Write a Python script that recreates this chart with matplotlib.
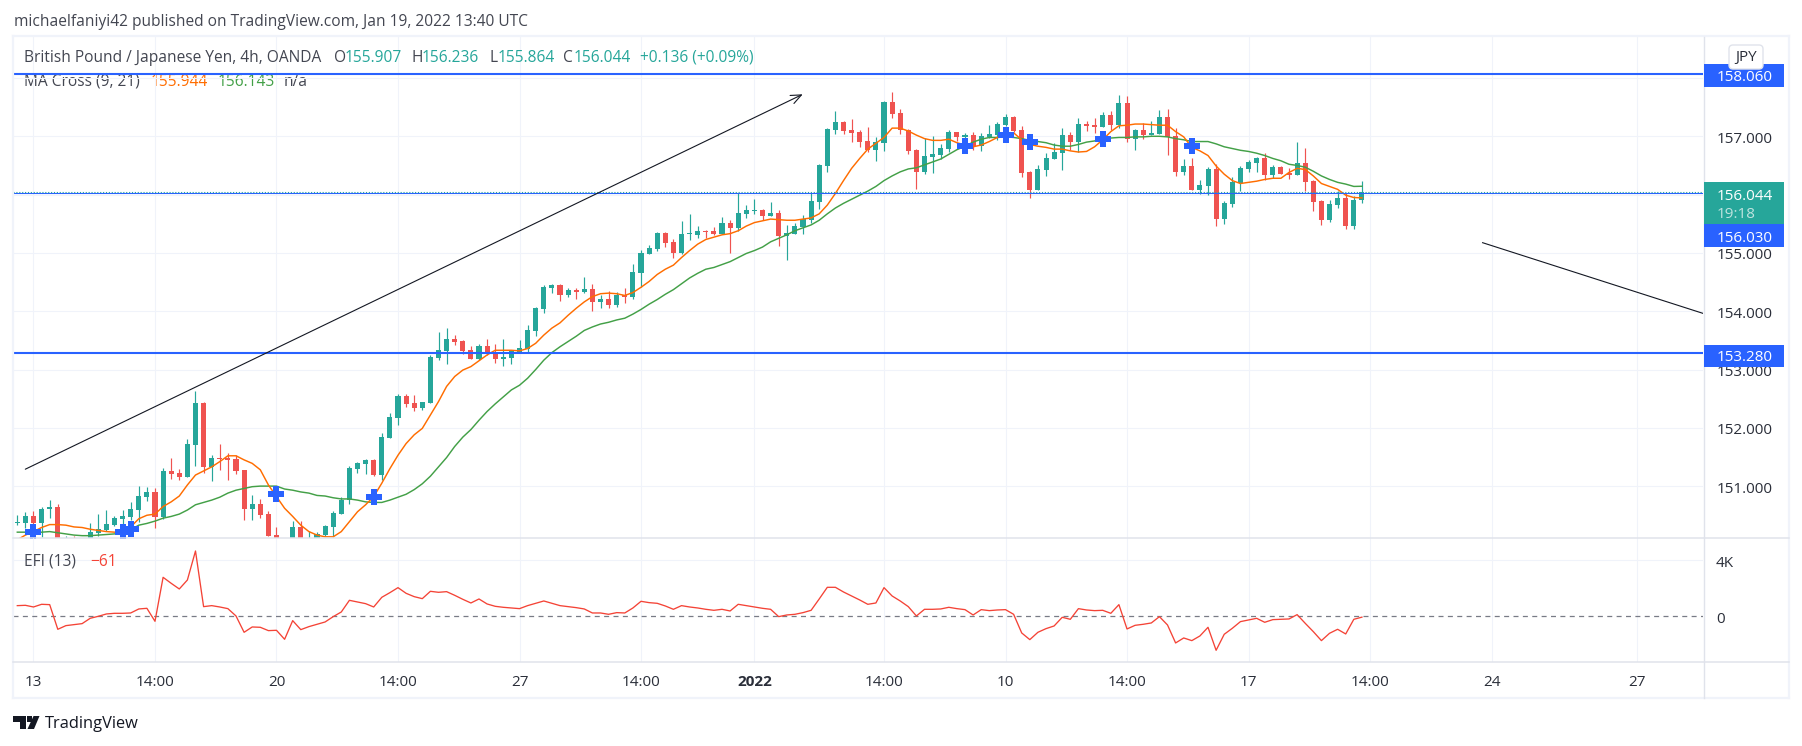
import numpy as np
import matplotlib
matplotlib.use("Agg")
import matplotlib.pyplot as plt
from matplotlib.patches import Rectangle, FancyBboxPatch, Polygon
from matplotlib.lines import Line2D

# GBP/JPY 4h candles, one value per bar
opens = [150.37,150.37,150.49,150.36,150.60,150.64,149.95,150.05,149.98,150.02,
         150.19,150.25,150.33,150.43,150.47,150.59,150.81,150.90,150.47,151.26,
         151.22,151.16,151.70,152.42,151.33,151.48,151.48,151.46,151.28,150.61,
         150.69,150.52,150.16,150.08,150.00,150.30,150.00,150.00,150.16,150.30,
         150.52,150.76,151.29,151.38,151.45,151.19,151.82,152.17,152.55,152.43,
         152.34,152.43,153.20,153.32,153.52,153.49,153.33,153.18,153.40,153.28,
         153.18,153.20,153.30,153.35,153.66,154.04,154.40,154.45,154.28,154.36,
         154.33,154.38,154.16,154.21,154.11,154.28,154.24,154.65,154.98,155.07,
         155.34,155.19,155.00,155.32,155.31,155.38,155.38,155.32,155.51,155.43,
         155.67,155.72,155.74,155.64,155.68,155.29,155.32,155.44,155.56,155.87,
         156.49,157.11,157.25,157.11,157.07,156.92,156.77,156.89,157.59,157.40,
         157.11,156.77,156.39,156.65,156.68,156.78,157.07,156.99,157.02,156.83,
         156.99,157.02,157.19,157.33,157.11,156.39,156.08,156.42,156.61,156.71,
         157.02,156.90,157.21,157.19,157.16,157.37,157.19,157.57,156.95,157.11,
         157.02,157.04,157.33,157.01,156.39,156.49,156.08,156.15,156.44,155.58,
         155.84,156.20,156.44,156.54,156.63,156.34,156.47,156.37,156.34,156.54,
         156.23,155.89,155.56,155.82,155.94,155.46,155.907]
highs = [150.50,150.56,150.57,150.64,150.76,150.69,150.14,150.14,150.10,150.37,
         150.52,150.59,150.49,150.59,150.72,151.00,150.98,150.97,151.31,151.48,
         151.29,151.81,152.63,152.44,151.53,151.72,151.56,151.53,151.28,150.85,
         150.78,150.57,150.30,150.10,150.40,150.40,150.23,150.21,150.33,150.57,
         150.81,151.35,151.41,151.46,151.46,151.91,152.25,152.58,152.58,152.56,
         152.44,153.25,153.64,153.71,153.59,153.51,153.40,153.44,153.52,153.44,
         153.52,153.33,153.51,153.76,154.08,154.45,154.47,154.47,154.40,154.40,
         154.59,154.47,154.28,154.35,154.33,154.40,154.81,155.05,155.13,155.36,
         155.36,155.24,155.55,155.67,155.46,155.39,155.44,155.62,155.56,156.03,
         155.82,155.92,155.75,155.87,155.74,155.48,155.52,155.65,156.03,156.52,
         157.14,157.43,157.26,157.30,157.11,157.16,156.99,157.61,157.76,157.47,
         157.13,156.78,156.97,157.01,156.87,157.11,157.07,157.06,157.07,157.06,
         157.19,157.25,157.38,157.35,157.18,156.40,156.51,156.71,156.89,157.14,
         157.07,157.31,157.26,157.31,157.42,157.43,157.71,157.69,157.13,157.23,
         157.26,157.45,157.47,157.14,156.61,156.63,156.25,156.47,156.52,155.89,
         156.30,156.49,156.59,156.65,156.71,156.51,156.49,156.46,156.90,156.80,
         156.25,155.91,155.91,156.06,156.03,155.98,156.236]
lows = [150.34,150.29,150.30,150.12,150.45,149.96,149.90,149.90,149.90,149.98,
        150.14,150.23,150.32,150.30,150.42,150.39,150.74,150.28,150.43,151.12,
        151.10,151.15,151.34,151.22,151.09,151.28,151.10,151.20,150.42,150.42,
        150.45,150.14,149.95,149.95,149.95,149.95,149.95,149.95,150.14,150.12,
        150.52,150.69,151.22,151.21,151.17,151.10,151.82,152.05,152.36,152.29,
        152.31,152.43,153.16,153.09,153.42,153.27,153.18,153.16,153.25,153.11,
        153.06,153.09,153.30,153.30,153.57,153.97,154.31,154.17,154.24,154.21,
        154.31,154.00,154.05,154.05,154.07,154.14,154.21,154.41,154.98,155.03,
        155.10,154.91,154.98,155.22,155.26,155.26,155.31,155.32,155.00,155.38,
        155.60,155.67,155.56,155.64,155.12,154.88,155.32,155.32,155.51,155.75,
        156.39,157.04,157.04,156.90,156.82,156.73,156.58,156.75,157.31,157.04,
        156.70,156.10,156.35,156.37,156.61,156.73,156.92,156.71,156.77,156.75,
        156.97,156.94,157.18,157.07,156.30,155.94,156.08,156.32,156.61,156.42,
        156.77,156.73,157.09,157.06,157.16,157.11,157.14,156.90,156.77,156.95,
        157.02,157.04,156.68,156.32,156.34,156.08,156.01,155.99,155.46,155.50,
        155.79,156.06,156.39,156.39,156.25,156.29,156.35,156.27,156.34,156.06,
        155.72,155.48,155.53,155.77,155.41,155.41,155.864]
closes = [150.38,150.49,150.36,150.60,150.64,150.02,150.03,149.95,150.05,150.21,
          150.26,150.35,150.45,150.49,150.61,150.83,150.90,150.47,151.26,151.21,
          151.16,151.72,152.42,151.33,151.48,151.46,151.45,151.26,150.61,150.69,
          150.50,150.14,150.00,150.02,150.30,150.00,150.08,150.18,150.32,150.54,
          150.76,151.31,151.40,151.45,151.19,151.84,152.19,152.55,152.41,152.34,
          152.44,153.21,153.33,153.52,153.47,153.32,153.18,153.40,153.27,153.18,
          153.21,153.32,153.37,153.68,154.05,154.41,154.45,154.28,154.36,154.33,
          154.38,154.16,154.21,154.11,154.28,154.24,154.67,155.00,155.08,155.34,
          155.17,155.00,155.32,155.33,155.38,155.36,155.32,155.51,155.43,155.68,
          155.74,155.74,155.64,155.68,155.29,155.34,155.46,155.58,155.89,156.51,
          157.13,157.25,157.09,157.06,156.90,156.77,156.90,157.59,157.38,157.11,
          156.75,156.39,156.66,156.70,156.80,157.07,156.99,157.02,156.83,157.00,
          157.04,157.21,157.33,157.09,156.37,156.08,156.44,156.63,156.73,157.02,
          156.90,157.21,157.18,157.16,157.37,157.19,157.57,156.95,157.11,157.02,
          157.06,157.33,156.99,156.39,156.49,156.08,156.16,156.44,155.58,155.86,
          156.22,156.46,156.56,156.63,156.34,156.47,156.35,156.34,156.54,156.22,
          155.87,155.56,155.84,155.94,155.46,155.91,156.044]

# MA Cross (9, 21)
ma_fast = [150.08,150.16,150.22,150.29,150.34,150.34,150.33,150.30,150.29,150.26,
           150.24,150.22,150.21,150.21,150.30,150.44,150.50,150.52,150.65,150.73,
           150.83,151.02,151.19,151.26,151.33,151.42,151.52,151.52,151.45,151.39,
           151.28,151.02,150.82,150.62,150.48,150.33,150.22,150.16,150.13,150.13,
           150.22,150.39,150.56,150.68,150.82,151.05,151.30,151.53,151.73,151.88,
           151.99,152.22,152.45,152.71,152.88,152.99,153.05,153.15,153.25,153.33,
           153.33,153.33,153.32,153.36,153.45,153.59,153.71,153.80,153.93,154.05,
           154.16,154.25,154.30,154.31,154.30,154.27,154.32,154.41,154.51,154.63,
           154.72,154.79,154.92,155.04,155.15,155.23,155.27,155.31,155.33,155.38,
           155.46,155.52,155.55,155.58,155.57,155.56,155.56,155.58,155.60,155.67,
           155.82,156.02,156.24,156.45,156.62,156.78,156.88,156.98,157.14,157.14,
           157.09,157.02,156.96,156.93,156.93,156.95,156.89,156.85,156.82,156.85,
           156.91,156.98,157.02,157.06,156.94,156.86,156.83,156.81,156.78,156.78,
           156.75,156.73,156.74,156.82,156.94,157.08,157.18,157.19,157.21,157.21,
           157.20,157.19,157.19,157.08,156.99,156.81,156.75,156.67,156.49,156.35,
           156.24,156.19,156.21,156.23,156.26,156.28,156.28,156.38,156.45,156.43,
           156.32,156.19,156.14,156.09,155.99,155.95,155.944]
ma_slow = [150.21,150.21,150.19,150.21,150.22,150.20,150.18,150.16,150.15,150.15,
           150.16,150.17,150.18,150.21,150.25,150.33,150.36,150.40,150.45,150.48,
           150.52,150.59,150.68,150.72,150.76,150.81,150.88,150.93,150.96,150.99,
           151.00,151.00,151.00,150.95,150.93,150.90,150.88,150.84,150.83,150.80,
           150.78,150.78,150.76,150.73,150.72,150.72,150.76,150.81,150.86,150.94,
           151.04,151.17,151.33,151.49,151.68,151.84,151.97,152.13,152.28,152.41,
           152.53,152.65,152.73,152.85,153.00,153.16,153.29,153.39,153.48,153.57,
           153.67,153.73,153.78,153.81,153.85,153.88,153.95,154.03,154.12,154.20,
           154.29,154.37,154.47,154.57,154.65,154.72,154.75,154.80,154.85,154.92,
           154.99,155.04,155.10,155.19,155.25,155.31,155.38,155.43,155.48,155.56,
           155.67,155.77,155.85,155.92,155.99,156.06,156.14,156.24,156.32,156.39,
           156.44,156.46,156.51,156.56,156.61,156.69,156.77,156.83,156.90,156.95,
           156.98,156.98,156.99,156.98,156.96,156.93,156.91,156.89,156.85,156.83,
           156.83,156.86,156.90,156.92,156.96,156.97,156.98,156.98,156.99,156.99,
           157.00,157.00,156.99,156.96,156.94,156.91,156.91,156.91,156.87,156.82,
           156.79,156.76,156.74,156.71,156.67,156.62,156.58,156.52,156.50,156.47,
           156.40,156.32,156.26,156.21,156.18,156.14,156.143]
cross_bars = [2, 13, 14, 32, 44, 117, 122, 125, 134, 145]
cross_prices = [150.21, 150.22, 150.26, 150.86, 150.81, 156.83, 157.03, 156.90, 156.96, 156.83]

# EFI (13)
efi = [762,785,666,857,833,-928,-666,-595,-524,-143,
       0,167,214,214,238,524,571,-357,2785,2356,
       1952,2594,4665,690,762,666,547,24,-1142,-762,
       -785,-1023,-1000,-1642,-309,-952,-738,-571,-405,-24,
       309,1142,1023,904,666,1357,1690,2047,1642,1404,
       1261,1785,1714,1761,1499,1214,952,1238,881,714,
       643,595,547,762,928,1095,928,762,690,619,
       524,238,238,143,262,238,595,1071,976,928,
       738,500,762,666,595,500,428,500,381,857,
       762,666,571,500,-24,95,143,262,428,1238,
       2071,2071,1737,1452,1166,857,952,2047,1452,1095,
       690,24,500,500,524,643,547,476,95,476,
       405,452,476,143,-1190,-1666,-1142,-881,-690,-71,
       -214,547,452,405,428,214,833,-904,-643,-571,
       -476,-24,-619,-1904,-1547,-1737,-1404,-785,-2428,-1285,
       -857,-381,-262,-143,-428,-238,-214,-190,119,-500,
       -1095,-1737,-1214,-928,-1261,-214,-61]

# horizontal levels and drawn lines
levels = [158.06, 153.28]
level_mid = 156.03
last_close = 156.044
arrow_start = (0.99, 151.29)
arrow_end = (96.96, 157.72)
down_line_x = [180.9, 208.17]
down_line_y = [155.175, 153.96]

# axis ticks
price_ticks = [151, 152, 153, 154, 155, 156, 157, 158]
price_labels = [151, 152, 153, 154, 155, 157]
efi_ticks = [4000, 0]
efi_labels = ["4K", "0"]
time_ticks = [2, 17, 32, 47, 62, 77, 91, 107, 122, 137, 152, 167, 182, 200]
time_labels = ["13", "14:00", "20", "14:00", "27", "14:00", "2022", "14:00", "10", "14:00", "17", "14:00", "24", "27"]

W, H = 1802, 746
FONT = "Open Sans"
TEXT = "#434651"
DARK = "#2a2e39"
GREEN = "#26a69a"
RED = "#ef5350"
BLUE = "#2962ff"
ORANGE = "#ff6d00"
MA_GREEN = "#43a047"
GRID = "#f0f3fa"
BORDER = "#e0e3eb"
HEAD_SIZE = 11.2
AXIS_SIZE = 11.0

plt.rcParams["font.family"] = [FONT, "DejaVu Sans"]


def fx(x):
    return x / W


def fy(y):
    return 1 - y / H


def axes_at(left, top, right, bottom):
    ax = fig.add_axes([fx(left), fy(bottom), (right - left) / W, (bottom - top) / H])
    for s in ax.spines.values():
        s.set_visible(False)
    ax.tick_params(length=0)
    ax.set_axisbelow(True)
    ax.patch.set_visible(False)
    return ax


# va=center counts the descender, so the glyphs need a small push down
def label(x, y, s, color=TEXT, size=HEAD_SIZE, ha="left", zorder=8, **kw):
    return fig.text(fx(x), fy(y + 1.5), s, color=color, fontsize=size, ha=ha, va="center", zorder=zorder, **kw)


def px_rect(x0, y0, x1, y1, color, zorder=6):
    fig.add_artist(Rectangle((fx(x0), fy(y1)), (x1 - x0) / W, (y1 - y0) / H, transform=fig.transFigure,
                             facecolor=color, edgecolor="none", zorder=zorder))


def px_line(x0, y0, x1, y1, color=BORDER, lw=1.0, zorder=5):
    fig.add_artist(Line2D([fx(x0), fx(x1)], [fy(y0), fy(y1)], transform=fig.transFigure,
                          color=color, lw=lw, zorder=zorder))


fig = plt.figure(figsize=(W / 100, H / 100), dpi=100, facecolor="white")

pane_left, pane_right = 13, 1703.5
ax = axes_at(pane_left, 37, pane_right, 538)
ax_efi = axes_at(pane_left, 538, pane_right, 662)

bars = np.arange(len(closes))
o, h, l, c = map(np.array, (opens, highs, lows, closes))
up = c >= o
colors = np.where(up, GREEN, RED)

# candles
ax.vlines(bars, l, h, colors=colors, lw=0.85, zorder=2)
body_low = np.minimum(o, c)
body_h = np.maximum(np.abs(c - o), 0.018)
ax.bar(bars, body_h, bottom=body_low, width=0.62, color=colors, linewidth=0, zorder=2.1)

# moving averages
ax.plot(bars, ma_slow, color=MA_GREEN, lw=1.05, zorder=3)
ax.plot(bars, ma_fast, color=ORANGE, lw=1.05, zorder=3.1)
ax.scatter(cross_bars, cross_prices, marker="P", s=125, color=BLUE, linewidths=0, zorder=3.5)

# levels
for lv in levels:
    ax.axhline(lv, color=BLUE, lw=1.5, zorder=4)
ax.axhline(level_mid, color=BLUE, lw=0.8, zorder=4)
ax.axhline(last_close, color=GREEN, lw=0.8, ls=(0, (1, 1.6)), zorder=4)

# hand drawn lines
ax.annotate("", xy=arrow_end, xytext=arrow_start,
            arrowprops=dict(arrowstyle="->,head_length=0.75,head_width=0.32", color="#131722", lw=0.8,
                            shrinkA=0, shrinkB=0), zorder=4)
ax.plot(down_line_x, down_line_y, color="#131722", lw=0.8, zorder=4)

xlim = (-0.53, 208.17)
ax.set_xlim(xlim)
ax.set_ylim(150.11, 158.703)
ax.set_xticks(time_ticks)
ax.set_xticklabels([])
ax.set_yticks(price_ticks)
ax.set_yticklabels([])
ax.grid(True, color=GRID, lw=0.75, zorder=0)

# price labels sit just right of the pane
for t in price_labels:
    ax.annotate(f"{t:.3f}", xy=(1, t), xycoords=ax.get_yaxis_transform(), xytext=(9.5, -2.2),
                textcoords="offset points", ha="left", va="center", fontsize=AXIS_SIZE, color=DARK, annotation_clip=False)

# EFI pane
ax_efi.axhline(0, color="#787b86", lw=0.9, ls=(0, (4, 3.5)), zorder=2)
ax_efi.plot(bars, efi, color="#f44336", lw=0.95, zorder=3)
ax_efi.set_xlim(xlim)
ax_efi.set_ylim(-3264, 5593)
ax_efi.set_yticks([4000])
ax_efi.set_yticklabels([])
ax_efi.set_xticks(time_ticks)
ax_efi.set_xticklabels(time_labels, fontsize=AXIS_SIZE, color=DARK)
ax_efi.tick_params(axis="x", pad=9.5)
for tl, s in zip(ax_efi.get_xticklabels(), time_labels):
    if s == "2022":
        tl.set_fontweight("bold")
ax_efi.grid(True, color=GRID, lw=0.75, zorder=0)
for t, s in zip(efi_ticks, efi_labels):
    ax_efi.annotate(s, xy=(1, t), xycoords=ax_efi.get_yaxis_transform(), xytext=(9, -2),
                    textcoords="offset points", ha="left", va="center", fontsize=AXIS_SIZE, color=DARK, annotation_clip=False)

# frame and separators
px_line(12.5, 36, 1789, 36, GRID, 1.6)
px_line(12.5, 36, 12.5, 698, GRID, 1.6)
px_line(12.5, 698, 1789, 698, GRID, 1.6)
px_line(1789, 36, 1789, 698, GRID, 1.6)
px_line(pane_left, 538, 1789, 538, BORDER, 1.1)
px_line(pane_left, 662, 1789, 662, BORDER, 1.1)
px_line(pane_right, 37, pane_right, 698, BORDER, 1.0)

# price boxes on the axis
px_rect(1703.5, 64, 1784, 87, BLUE)
px_rect(1703.5, 182, 1784, 224, GREEN)
px_rect(1703.5, 224, 1784, 247, BLUE)
px_rect(1703.5, 345, 1784, 367, BLUE)
label(1717, 76, "158.060", "white", AXIS_SIZE)
label(1717, 195, "156.044", "white", AXIS_SIZE)
label(1717, 213, "19:18", "#bfe3df", AXIS_SIZE)
label(1717, 236.5, "156.030", "white", AXIS_SIZE)
label(1717, 356, "153.280", "white", AXIS_SIZE)

# currency button
fig.add_artist(FancyBboxPatch((1729, 45), 34, 24, boxstyle="round,pad=0,rounding_size=4", transform=None,
                              facecolor="white", edgecolor=BORDER, lw=1.0, zorder=7))
fig.artists[-1].set_transform(matplotlib.transforms.Affine2D().scale(1, -1).translate(0, H))
label(1746, 56, "JPY", DARK, AXIS_SIZE, ha="center")

# header and legends
label(13.5, 20.5, "michaelfaniyi42 published on TradingView.com, Jan 19, 2022 13:40 UTC")
label(24, 56.5, "British Pound / Japanese Yen, 4h, OANDA")
for x, s, col in [(334, "O", TEXT), (345, "155.907", GREEN), (411.5, "H", TEXT), (422, "156.236", GREEN),
                  (489, "L", TEXT), (497.5, "155.864", GREEN), (563.5, "C", TEXT), (573.5, "156.044", GREEN),
                  (640, "+0.136 (+0.09%)", GREEN)]:
    label(x, 56.5, s, col)
# this row sits under the 158.060 line
label(24, 80, "MA Cross (9, 21)", zorder=-1)
label(151, 80, "155.944", ORANGE, zorder=-1)
label(218, 80, "156.143", MA_GREEN, zorder=-1)
label(284, 80, "n/a", zorder=-1)
label(24, 560, "EFI (13)")
label(90, 560, "\u221261", "#f44336")

# TradingView logo
logo = "#131722"
fig.add_artist(Polygon([(fx(13), fy(716)), (fx(26), fy(716)), (fx(26), fy(729)), (fx(19.5), fy(729)), (fx(19.5), fy(722)), (fx(13), fy(722))],
                       transform=fig.transFigure, facecolor=logo, edgecolor="none", zorder=7))
fig.add_artist(Rectangle((fx(26.5), fy(722)), 5.5 / W, 6 / H, transform=fig.transFigure, facecolor=logo, edgecolor="none", zorder=7))
fig.add_artist(Polygon([(fx(33.5), fy(716)), (fx(39.5), fy(716)), (fx(34), fy(729)), (fx(27.5), fy(729))],
                       transform=fig.transFigure, facecolor=logo, edgecolor="none", zorder=7))
label(44.5, 722, "TradingView", logo, 11.8)

fig.savefig("out.png", dpi=100, facecolor="white")
